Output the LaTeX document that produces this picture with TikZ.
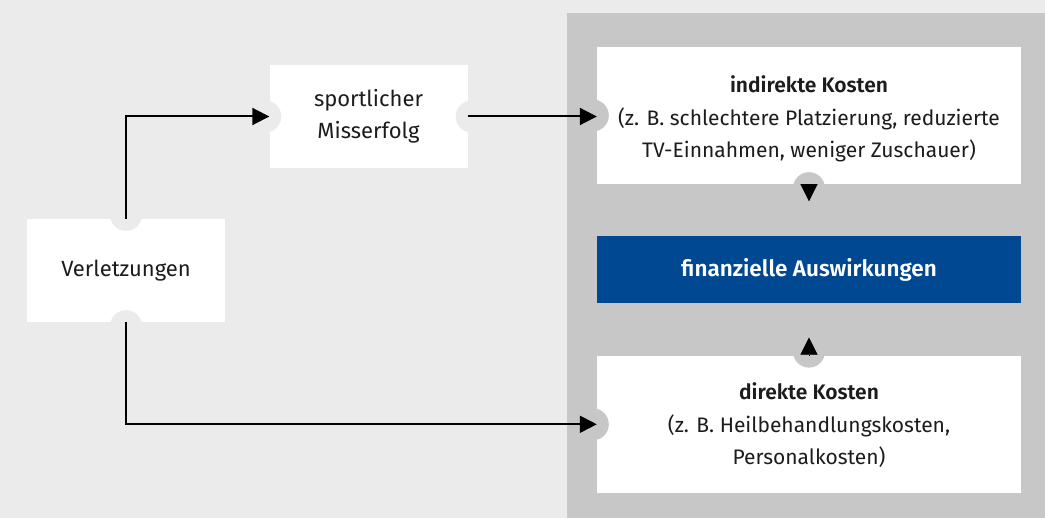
\documentclass[tikz,border=0pt]{standalone}
\usepackage{fontspec}
\setmainfont{Fira Sans}[BoldFont={Fira Sans SemiBold}]
\usetikzlibrary{arrows.meta, positioning}
\definecolor{pagebg}{RGB}{235,235,235}
\definecolor{panelbg}{RGB}{198,199,198}
\definecolor{finblue}{RGB}{0,72,145}
\definecolor{txtdark}{RGB}{28,28,28}
\tikzset{
  causebox/.style={rectangle, fill=white, minimum width=198pt,
                   minimum height=103pt, inner sep=0pt, align=center,
                   text=txtdark, font=\fontsize{22}{32.5}\selectfont},
  costbox/.style={rectangle, fill=white, minimum width=424pt,
                  minimum height=137pt, inner sep=0pt, align=center,
                  text=txtdark, font=\fontsize{21}{32.5}\selectfont},
  finbox/.style={rectangle, fill=finblue, minimum width=424pt,
                 minimum height=67pt, inner sep=0pt, align=center,
                 text=white, font=\fontsize{22.5}{24}\selectfont\bfseries},
  notch/.style={fill=#1},
  arrowstyle/.style={-{Triangle[length=17pt, width=17pt]}, line width=2pt, color=black},
  tipstyle/.style={-{Triangle[length=17pt, width=17pt]}, line width=0.1pt, color=black},
}

\begin{document}
\begin{tikzpicture}[x=1pt, y=-1pt]
  \useasboundingbox (0,0) rectangle (1045,518);
  \fill[pagebg] (0,0) rectangle (1045,518);
  \fill[panelbg] (567,13) rectangle (1045,518);

  \node[causebox] (verl) at (126,270.5) {Verletzungen};
  \node[causebox] (sport) at (368.5,116.5) {sportlicher\\Misserfolg};
  \node[costbox] (indir) at (809,115.5)
    {\rule{0pt}{24pt}{\bfseries indirekte Kosten}\\(z. B. schlechtere Platzierung, reduzierte\\TV-Einnahmen, weniger Zuschauer)};
  \node[finbox, below=52pt of indir] (fin) {finanzielle Auswirkungen};
  \node[costbox, below=52pt of fin] (dir)
    {\rule{0pt}{19pt}{\bfseries direkte Kosten}\\(z. B. Heilbehandlungskosten,\\Personalkosten)};

  % notches
  \fill[notch=pagebg] ([yshift=4pt]verl.north) circle (16pt);
  \fill[notch=pagebg] ([yshift=-4pt]verl.south) circle (16pt);
  \fill[notch=pagebg] ([xshift=-4pt]sport.west) circle (16pt);
  \fill[notch=pagebg] ([xshift=4pt]sport.east) circle (16pt);
  \fill[notch=panelbg] ([xshift=-4pt]indir.west) circle (16pt);
  \fill[notch=panelbg] ([yshift=-4pt]indir.south) circle (16pt);
  \fill[notch=panelbg] ([yshift=4pt]dir.north) circle (16pt);
  \fill[notch=panelbg] ([xshift=-4pt]dir.west) circle (16pt);

  \draw[arrowstyle] (verl.north) |- (sport.west);
  \draw[arrowstyle] (sport.east) -- (sport.east -| indir.west);
  \draw[arrowstyle] (verl.south) |- (dir.west);
  \draw[tipstyle, shorten >=35pt] (indir.south) -- (fin.north);
  \draw[tipstyle, shorten >=34pt] (dir.north) -- (fin.south);
\end{tikzpicture}
\end{document}
